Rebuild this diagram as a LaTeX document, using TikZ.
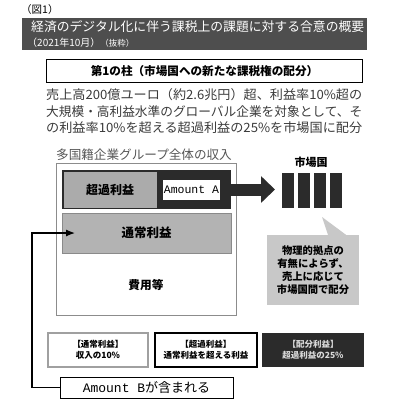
\documentclass[tikz,border=0pt]{standalone}
\usepackage{fontspec}
\setmainfont{Noto Sans CJK JP}
\newfontfamily\amtfont{Liberation Mono}
\usepackage{tikz}
\usetikzlibrary{positioning,arrows.meta}

\definecolor{headgray}{HTML}{4E4E4E}
\definecolor{bodygray}{HTML}{3A3A3A}
\definecolor{capgray}{HTML}{555555}
\definecolor{framegray}{HTML}{8C8C8C}
\definecolor{excgray}{HTML}{ABABAB}
\definecolor{normgray}{HTML}{B3B3B3}
\definecolor{bandedge}{HTML}{8A8A8A}
\definecolor{notegray}{HTML}{C8C8C8}
\definecolor{darkfill}{HTML}{2B2B2B}
\definecolor{keyedge}{HTML}{A0A0A0}

% body lines are justified to the pillar box width
\newcommand\fitline[2][316pt]{\resizebox{#1}{\height}{#2}}

\tikzset{
  blk/.style={anchor=north west, inner sep=0pt, outer sep=0pt},
  ttl/.style={anchor=west, inner sep=0pt, text=white},
  body/.style={anchor=west, inner sep=0pt, text=bodygray, font=\fontsize{12.8}{14}\selectfont},
  bar/.style={inner sep=0pt, fill=darkfill, minimum width=12pt, minimum height=35pt},
  keybox/.style={minimum width=#1, minimum height=34pt, inner sep=0pt, line width=1.2pt,
    align=center, font=\fontsize{8.5}{11}\selectfont\bfseries}
}

\begin{document}
\begin{tikzpicture}[x=1pt, y=-1pt]
    \useasboundingbox (0,0) rectangle (400,408);

    \node[anchor=west, inner sep=0pt, font=\fontsize{10.5}{12}\selectfont] (fig) at (21,10) {（図1）};
    \node[blk, fill=headgray, minimum width=345pt, minimum height=32pt] (head) at (22,18) {};
    \node[ttl, font=\fontsize{12.8}{14}\selectfont] (head1) at (31,27) {\fitline[333pt]{経済のデジタル化に伴う課税上の課題に対する合意の概要}};
    \node[ttl, font=\fontsize{10}{12}\selectfont] (head2) at (27,42.5) {（2021年10月）{\fontsize{8.5}{10}\selectfont（抜粋）}};

    \node[draw, line width=1.3pt, minimum width=316pt, minimum height=23pt, inner sep=0pt,
      font=\fontsize{11.6}{13}\selectfont\bfseries] (pil) at (204.5,71) {第1の柱（市場国への新たな課税権の配分）};

    \node[body] (l1) at (46,94.5) {\fitline{売上高200億ユーロ（約2.6兆円）超、利益率10\%超の}};
    \node[body] (l2) at (46,111.5) {\fitline{大規模・高利益水準のグローバル企業を対象として、そ}};
    \node[body] (l3) at (46,128) {\fitline{の利益率10\%を超える超過利益の25\%を市場国に配分}};

    % revenue block
    \node[anchor=west, inner sep=0pt, text=capgray, font=\fontsize{12.6}{14}\selectfont] (revcap) at (56,155) {多国籍企業グループ全体の収入};
    \node[blk, draw=framegray, line width=0.9pt, minimum width=180pt, minimum height=152pt] (rev) at (56,163) {};
    \node[blk, fill=darkfill, minimum width=169pt, minimum height=39pt] (top) at (62,170) {};
    \node[blk, fill=excgray, minimum width=93pt, minimum height=36pt,
      font=\fontsize{12}{13}\selectfont\bfseries] (exc) at (63.5,171.5) {超過利益};
    \node[fill=white, minimum width=57pt, minimum height=20pt, inner sep=0pt,
      font=\fontsize{11.5}{12}\amtfont] (amta) at (191.5,190) {Amount A};
    \node[blk, fill=normgray, draw=bandedge, minimum width=169pt, minimum height=40pt,
      font=\fontsize{12.5}{13}\selectfont\bfseries] (norm) at (62,213) {通常利益};
    \node[font=\fontsize{11.7}{13}\selectfont\bfseries] (cost) at (146,285) {費用等};

    % market countries
    \node[bar, anchor=north west] (b1) at (282,173) {};
    \foreach \i [count=\j] in {2,3,4}
      \node[bar, right=3.5pt of b\j] (b\i) {};
    \node[font=\fontsize{11}{12}\selectfont\bfseries] (mkt) at (311,162) {市場国};
    \draw[darkfill, line width=12pt, -{Triangle[length=14pt, width=26pt]}, shorten >=7pt]
      (top.east) -- (top.east -| b1.west);

    \node[fill=notegray, minimum width=92pt, minimum height=70pt, inner sep=0pt, align=center,
      font=\fontsize{10.3}{13}\selectfont\bfseries] (note) at (313,270)
      {物理的拠点の\\有無によらず、\\売上に応じて\\市場国間で配分};
    \fill[notegray] ([xshift=15pt]note.north) -- (322,217) -- ([xshift=33pt]note.north) -- cycle;

    % keys
    \node[keybox=100pt, draw=keyedge, fill=white] (k1) at (98,350) {【通常利益】\\収入の10\%};
    \node[keybox=102pt, draw=black] (k2) at (206,350) {【超過利益】\\通常利益を超える利益};
    \node[keybox=102pt, fill=darkfill, text=white!85!black] (k3) at (313,350) {【配分利益】\\超過利益の25\%};

    % amount B
    \node[draw, line width=0.8pt, minimum width=173pt, minimum height=21pt, inner sep=0pt,
      font=\fontsize{13}{14}\selectfont] (amtb) at (146.5,387.5) {{\amtfont Amount B}が含まれる};
    \coordinate (bend) at (32,233);
    \coordinate (normin) at (75,233);
    \draw[line width=1.2pt, -{Latex[length=9pt, width=7pt]}] (amtb.west) -| (bend) -- (normin);
\end{tikzpicture}
\end{document}
